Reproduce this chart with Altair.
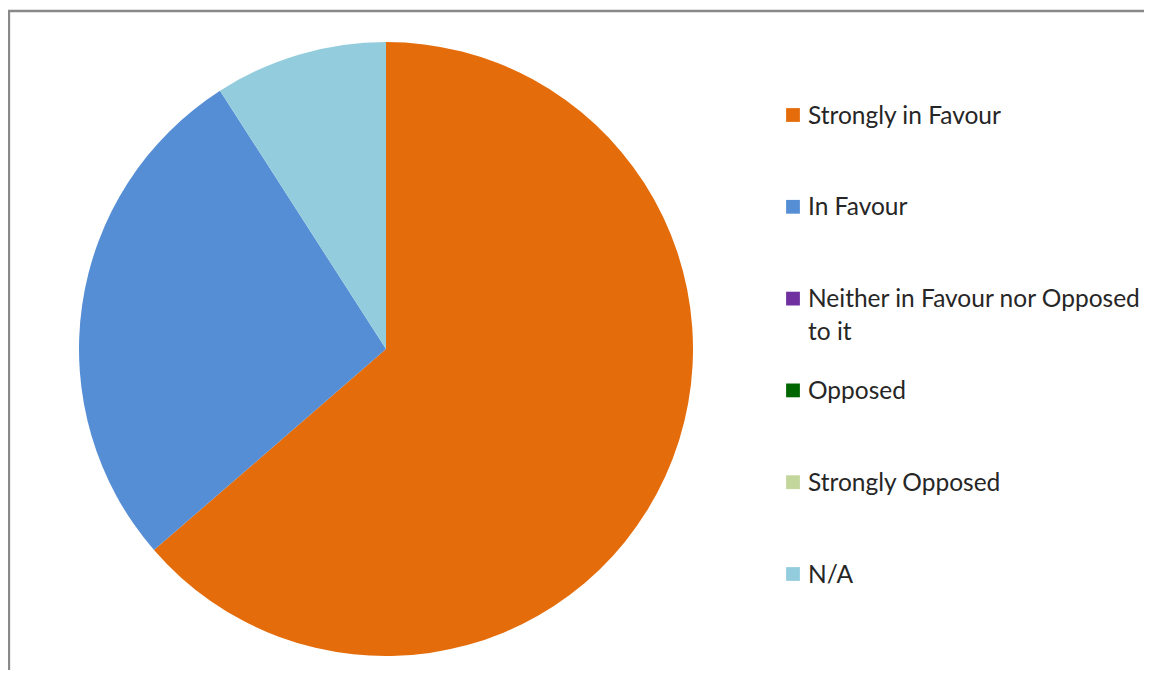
import altair as alt
import pandas as pd

categories = ["Strongly in Favour", "In Favour", "Neither in Favour nor Opposed to it",
              "Opposed", "Strongly Opposed", "N/A"]
labels = ["Strongly in Favour", "In Favour", "Neither in Favour nor Opposed\nto it",
          "Opposed", "Strongly Opposed", "N/A"]
values = [21, 9, 0, 0, 0, 3]
colors = ["#E46C0A", "#558ED5", "#7030A0", "#006600", "#C3D69B", "#93CDDD"]

df = pd.DataFrame({"cat": categories, "label": labels, "value": values,
                   "idx": list(range(len(categories)))})

W, H = 1136, 662
color_scale = alt.Scale(domain=categories, range=colors)

base = alt.Chart(df)

pie = base.mark_arc(radius=307).encode(
    theta=alt.Theta("value:Q", stack=True),
    color=alt.Color("cat:N", scale=color_scale, legend=None),
    order=alt.Order("idx:Q"),
    x=alt.value(378),
    y=alt.value(341),
)

yenc = alt.Y("cat:N", sort=categories, axis=None,
             scale=alt.Scale(type="point", padding=0, range=[107, 566]))

swatch = base.mark_square(size=190, opacity=1).encode(
    x=alt.value(785),
    y=yenc,
    color=alt.Color("cat:N", scale=color_scale, legend=None),
)

text = base.mark_text(align="left", baseline="alphabetic", dy=8.5, fontSize=24.5,
                      font="Lato", color="#262626", lineBreak="\n",
                      lineHeight=33).encode(
    x=alt.value(800),
    y=yenc,
    text="label:N",
)

border_data = alt.Data(values=[{"a": 1}])
top_rule = alt.Chart(border_data).mark_rule(color="#898989", strokeWidth=2.3).encode(
    x=alt.value(0), x2=alt.value(W), y=alt.value(3))
left_rule = alt.Chart(border_data).mark_rule(color="#898989", strokeWidth=2.3).encode(
    x=alt.value(1), y=alt.value(2), y2=alt.value(H))

chart = alt.layer(pie, swatch, text, top_rule, left_rule).properties(
    width=W, height=H,
    padding={"left": 0, "top": 0, "right": 0, "bottom": 0},
    autosize=alt.AutoSizeParams(type="none"),
    background="white",
).configure_view(stroke=None)

chart.save("out.html", embed_options={"renderer": "svg", "actions": False})
